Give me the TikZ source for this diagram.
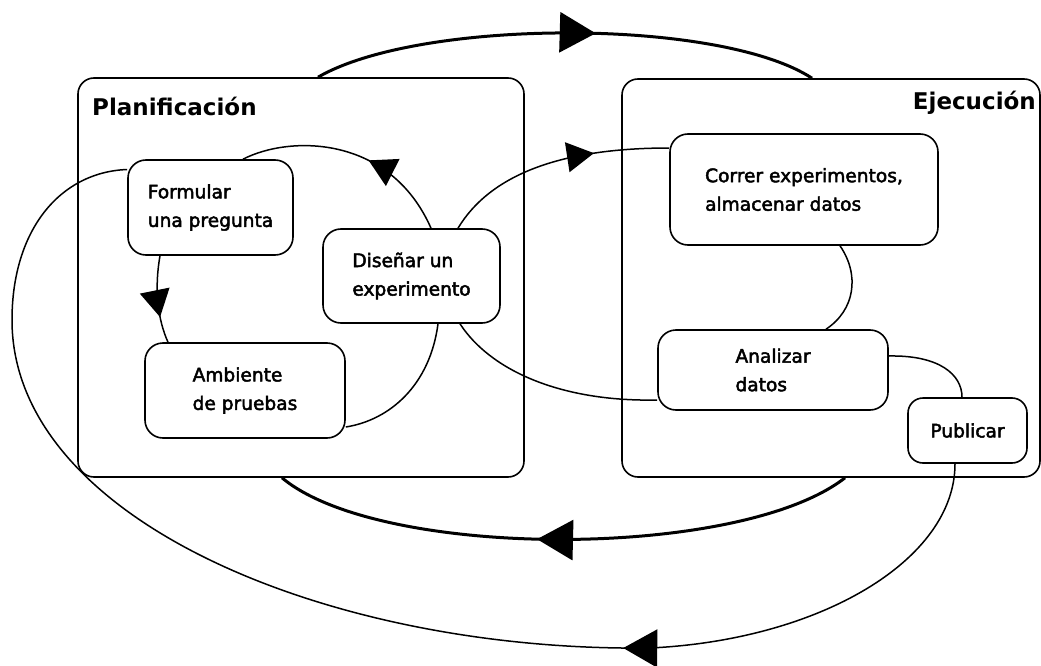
\documentclass[tikz,border=0pt]{standalone}
\usepackage{fontspec}
\setmainfont{DejaVu Sans}
\newfontfamily\stepfamily[FakeBold=2.5]{DejaVu Sans}
\usetikzlibrary{arrows.meta,decorations.markings}

\newcommand\boxfont{\stepfamily\fontsize{18.6}{28.5}\selectfont}
\newcommand\titlefont{\fontsize{23}{28}\selectfont\bfseries}

\begin{document}
\begin{tikzpicture}[x=1pt, y=-1pt,
    stage/.style={draw, rounded corners=16pt, line width=1.6pt, inner sep=0pt},
    stepbox/.style={draw, rounded corners=18pt, line width=1.6pt, align=left, font=\boxfont},
    flow/.style={line width=1.5pt},
    bigflow/.style={line width=3pt},
    tipat/.style={postaction={decorate}, decoration={markings,
        mark=at position #1 with {\arrow{Triangle[length=27pt, width=30pt]}}}},
    backtipat/.style={postaction={decorate}, decoration={markings,
        mark=at position #1 with {\arrowreversed{Triangle[length=27pt, width=30pt]}}}},
    bigtipat/.style={postaction={decorate}, decoration={markings,
        mark=at position #1 with {\arrow{Triangle[length=36pt, width=40pt]}}}}]

  \useasboundingbox (0,0) rectangle (1041,666);

  % the two stages
  \node[stage, minimum width=446pt, minimum height=399pt] (plan) at (301,277.5) {};
  \node[stage, minimum width=418pt, minimum height=398pt] (ejec) at (831,278) {};
  \node[font=\titlefont, inner sep=0pt, anchor=base west] (plantitle) at (92,116) {Planificación};
  \node[font=\titlefont, inner sep=0pt, anchor=base east] (ejectitle) at (1036,110) {Ejecución};

  % steps of each stage
  \node[stepbox, minimum width=165pt, minimum height=95pt] (formular) at (210.5,207.5) {Formular\\una pregunta};
  \node[stepbox, minimum width=177pt, minimum height=94pt] (disenar) at (411.5,276) {Diseñar un\\experimento};
  \node[stepbox, minimum width=200pt, minimum height=95pt] (ambiente) at (245,390.5) {Ambiente\\de pruebas};
  \node[stepbox, minimum width=268pt, minimum height=111pt] (correr) at (804,189.5) {Correr experimentos,\\almacenar datos};
  \node[stepbox, minimum width=230pt, minimum height=80pt] (analizar) at (773,370) {Analizar\\datos};
  \node[stepbox, rounded corners=15pt, minimum width=119pt, minimum height=65pt] (publicar) at (967.5,430.5) {Publicar};

  % big loop between the stages
  \draw[bigflow, bigtipat=0.56] ([xshift=17pt]plan.north) .. controls (420,18) and (720,18) .. ([xshift=-19pt]ejec.north);
  \draw[bigflow, bigtipat=0.545] ([xshift=14pt]ejec.south) .. controls (740,560) and (380,560) .. ([xshift=-19pt]plan.south);

  % planning cycle
  \draw[flow, backtipat=0.58] ([xshift=32.5pt]formular.north) .. controls (290,135) and (390,135) .. ([xshift=19.5pt]disenar.north);
  \draw[flow, tipat=0.7] ([xshift=-50.5pt]formular.south) .. controls (154,290) and (158,320) .. ([xshift=-77pt]ambiente.north);
  \draw[flow] ([xshift=26.5pt]disenar.south) .. controls (430,385) and (390,420) .. ([yshift=-36.5pt]ambiente.east);

  % design and run
  \draw[flow, tipat=0.68] ([xshift=46.5pt]disenar.north) .. controls (490,175) and (560,148) .. ([yshift=41.5pt]correr.west);
  \draw[flow] ([xshift=36pt]correr.south) .. controls (860,275) and (855,310) .. ([xshift=53pt]analizar.north);
  \draw[flow] ([yshift=-30pt]analizar.west) .. controls (560,402) and (490,370) .. ([xshift=48.5pt]disenar.south);
  \draw[flow] ([yshift=14pt]analizar.east) .. controls (940,355) and (962,375) .. ([xshift=-5.5pt]publicar.north);

  % publishing leads to a new question
  \draw[flow, postaction={decorate}, decoration={markings,
      mark=at position 0.30 with {\arrow{Triangle[length=34pt, width=38pt]}}}]
    ([xshift=-12.5pt]publicar.south) .. controls (955,560) and (820,640) .. (650,648)
    .. controls (330,652) and (12,520) .. (12,320)
    .. controls (12,230) and (60,172) .. ([yshift=38pt]formular.west);
\end{tikzpicture}
\end{document}
